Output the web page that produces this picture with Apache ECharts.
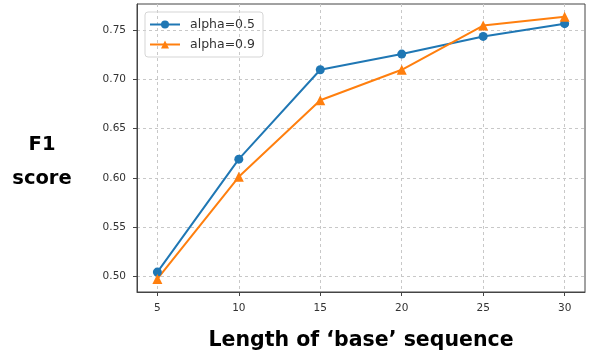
<!DOCTYPE html>
<html><head><meta charset="utf-8">
<script src="https://cdn.jsdelivr.net/npm/echarts@6/dist/echarts.min.js"></script>
<style>html,body{margin:0;padding:0;background:#fff}#c{width:590px;height:356px}</style>
</head><body><div id="c"></div>
<script>
const xValues = [5, 10, 15, 20, 25, 30];
const alpha05 = [0.504, 0.619, 0.710, 0.726, 0.744, 0.757];
const alpha09 = [0.497, 0.601, 0.679, 0.710, 0.755, 0.764];
const xTicks = [5, 10, 15, 20, 25, 30];
const yTicks = [0.50, 0.55, 0.60, 0.65, 0.70, 0.75];
const seriesNames = ['alpha=0.5', 'alpha=0.9'];
const xTitle = 'Length of \u2018base\u2019 sequence';
const yTitle = 'F1\nscore';

const font = '"DejaVu Sans", sans-serif';
const chart = echarts.init(document.getElementById('c'));
chart.setOption({
  animation: false,
  grid: { left: 137, right: 5, top: 4, bottom: 58, show: true, borderColor: '#444', borderWidth: 1, backgroundColor: 'transparent' },
  legend: {
    orient: 'vertical', left: 145, top: 12,
    padding: [6, 8, 6, 4], itemGap: 7, itemWidth: 30, itemHeight: 10,
    borderColor: '#d5d5d5', borderWidth: 1, borderRadius: 3,
    textStyle: { fontFamily: font, fontSize: 12.5, color: '#333', padding: [0, 0, 0, 5] },
    data: seriesNames
  },
  graphic: [{
    type: 'text', x: 42, y: 128,
    style: { text: yTitle, align: 'center', verticalAlign: 'top', fontFamily: font, fontSize: 19.5, fontWeight: 'bold', fill: '#000', lineHeight: 34 }
  }],
  xAxis: {
    type: 'value', min: 3.75, max: 31.25,
    name: xTitle, nameLocation: 'middle', nameGap: 38,
    nameTextStyle: { fontFamily: font, fontSize: 20.5, fontWeight: 'bold', color: '#000' },
    axisLine: { show: true, lineStyle: { color: '#444' } },
    axisTick: { show: true, length: 4, customValues: xTicks, lineStyle: { color: '#444' } },
    axisLabel: { customValues: xTicks, margin: 11, fontFamily: font, fontSize: 10.5, color: '#333' },
    splitLine: { show: true, lineStyle: { type: [3, 3], color: '#c8c8c8' } }
  },
  yAxis: {
    type: 'value', min: 0.4837, max: 0.777,
    axisLine: { show: true, lineStyle: { color: '#444' } },
    axisTick: { show: true, length: 4, customValues: yTicks, lineStyle: { color: '#444' } },
    axisLabel: { customValues: yTicks, margin: 11, fontFamily: font, fontSize: 10.5, color: '#333', formatter: v => v.toFixed(2) },
    splitLine: { show: true, lineStyle: { type: [3, 3], color: '#c8c8c8' } }
  },
  series: [
    { name: seriesNames[0], type: 'line', data: xValues.map((x, i) => [x, alpha05[i]]),
      symbol: 'circle', symbolSize: 9, color: '#1f77b4', lineStyle: { width: 2 } },
    { name: seriesNames[1], type: 'line', data: xValues.map((x, i) => [x, alpha09[i]]),
      symbol: 'triangle', symbolSize: 10, color: '#ff7f0e', lineStyle: { width: 2 } }
  ]
});
</script></body></html>
